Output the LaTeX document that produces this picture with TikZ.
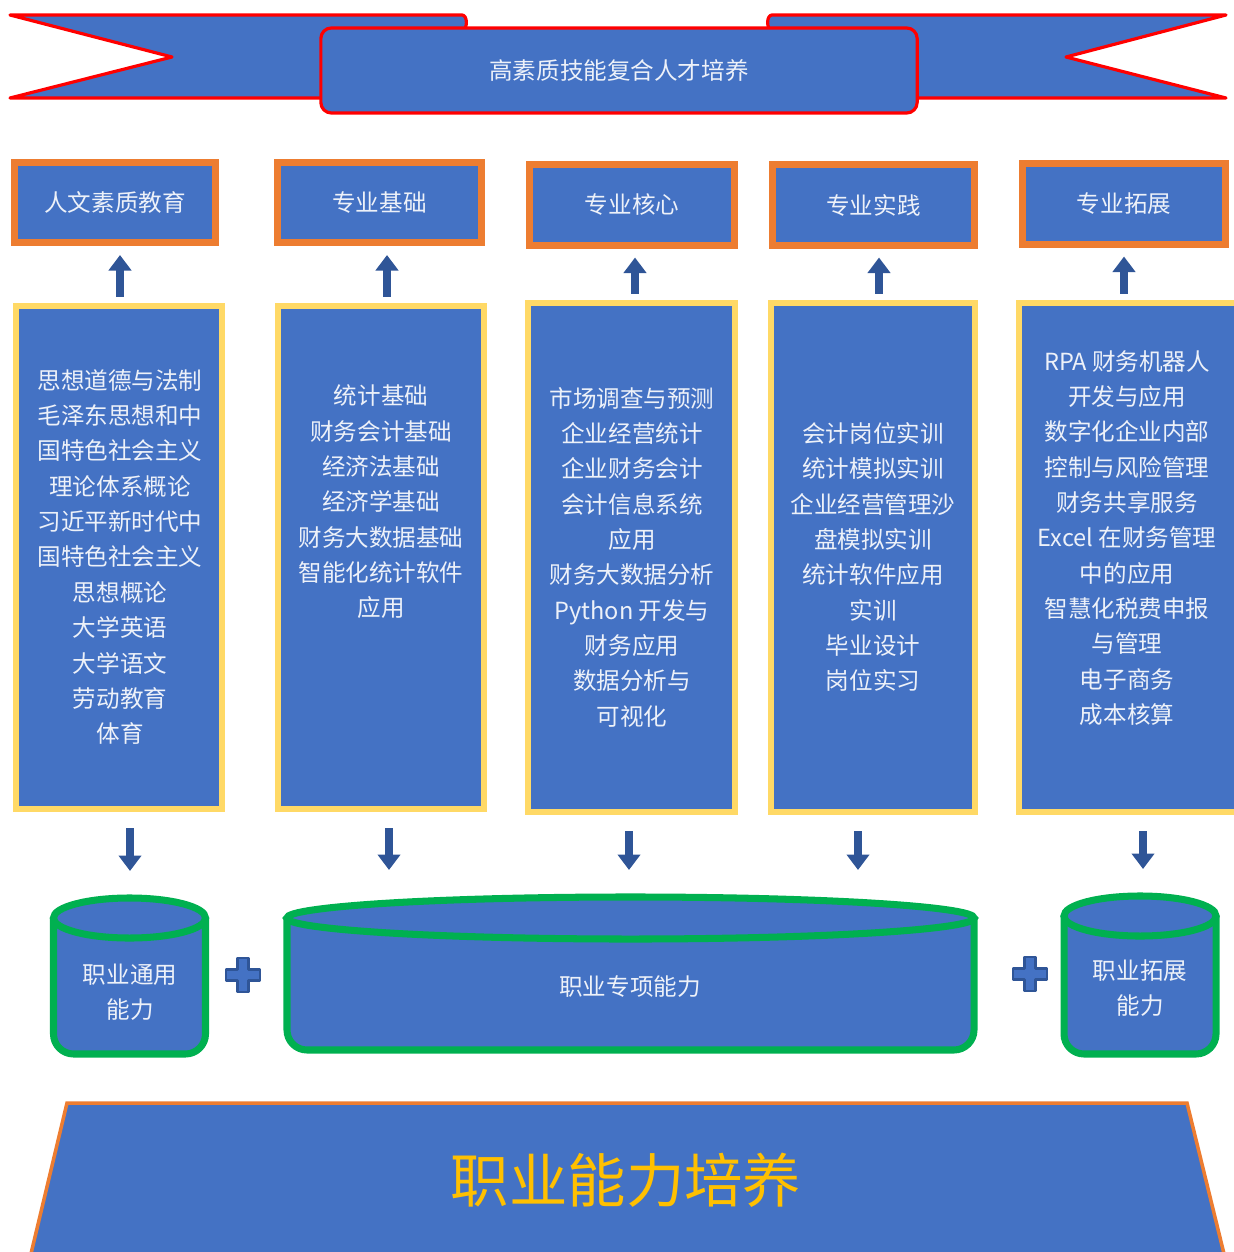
\documentclass[tikz,border=0pt]{standalone}
\usepackage{fontspec}
\newfontfamily\cjk{Noto Sans CJK SC}
\usetikzlibrary{arrows.meta}

\definecolor{boxblue}{HTML}{4472C4}
\definecolor{arrblue}{HTML}{2F5597}
\definecolor{hdorange}{HTML}{ED7D31}
\definecolor{crsyellow}{HTML}{FFD966}
\definecolor{capgreen}{HTML}{00B050}
\definecolor{txtwhite}{HTML}{EDF1F9}
\definecolor{basegold}{HTML}{FFC000}
\definecolor{ribred}{HTML}{FF0000}

\tikzset{
  ribbon/.style={draw=ribred, line width=0.9pt, fill=boxblue, line join=round},
  headbox/.style={draw=hdorange, line width=2pt, fill=boxblue, minimum height=0.8cm,
    text=txtwhite, font=\cjk\fontsize{6.7}{10}\selectfont},
  coursebox/.style={draw=crsyellow, line width=1.8pt, fill=boxblue},
  coursetext/.style={text=txtwhite, align=center, font=\cjk\fontsize{6.7}{10.05}\selectfont},
  uparr/.style={arrblue, line width=2.3pt, -{Triangle[width=6.3pt,length=4.4pt]},
    shorten <=0.6mm, shorten >=0.9mm},
  downarr/.style={arrblue, line width=2.3pt, -{Triangle[width=6.3pt,length=4.4pt]},
    shorten <=1.6mm, shorten >=2.6mm},
  capline/.style={draw=capgreen, line width=2pt, fill=boxblue},
  plussign/.style={draw=arrblue, line width=0.8pt, fill=boxblue, line join=round},
}

\begin{document}
\begin{tikzpicture}[x=0.01cm, y=-0.01cm]
  \useasboundingbox (0,0) rectangle (1233,1252);

  % banner
  \draw[ribbon] (10,15) -- (462,15) to[out=0,in=0] (462,30) -- (330,30) -- (330,98)
    -- (10,98) -- (172,57) -- cycle;
  \draw[ribbon] (1226,15) -- (772,15) to[out=180,in=180] (772,30) -- (905,30) -- (905,98)
    -- (1226,98) -- (1066,57) -- cycle;
  \node[ribbon, rounded corners=3pt, minimum width=5.96cm, minimum height=0.85cm,
    text=txtwhite, font=\cjk\fontsize{6.7}{10}\selectfont] (goal) at (619,70.5) {高素质技能复合人才培养};

  % module heads
  \node[headbox, minimum width=2.0cm] (h1) at (115,202.5) {人文素质教育};
  \node[headbox, minimum width=2.03cm] (h2) at (379.5,202.5) {专业基础};
  \node[headbox, minimum width=2.04cm] (h3) at (632,205) {专业核心};
  \node[headbox, minimum width=2.01cm] (h4) at (873.5,205) {专业实践};
  \node[headbox, minimum width=2.02cm] (h5) at (1124,204) {专业拓展};

  % course boxes
  \node[coursebox, minimum width=2.06cm, minimum height=5.03cm] (c1) at (119,557.5) {};
  \node[coursebox, minimum width=2.06cm, minimum height=5.03cm] (c2) at (381,557.5) {};
  \node[coursebox, minimum width=2.07cm, minimum height=5.09cm] (c3) at (631.5,557.5) {};
  \node[coursebox, minimum width=2.04cm, minimum height=5.09cm] (c4) at (873,557.5) {};
  \node[coursebox, minimum width=2.18cm, minimum height=5.09cm] (c5) at (1128,557.5) {};

  \node[coursetext] (t1) at (120,557) {思想道德与法制\\毛泽东思想和中\\国特色社会主义\\理论体系概论\\习近平新时代中\\国特色社会主义\\思想概论\\大学英语\\大学语文\\劳动教育\\体育};
  \node[coursetext] (t2) at (381,502) {统计基础\\财务会计基础\\经济法基础\\经济学基础\\财务大数据基础\\智能化统计软件\\应用};
  \node[coursetext] (t3) at (632,557) {市场调查与预测\\企业经营统计\\企业财务会计\\会计信息系统\\应用\\财务大数据分析\\Python 开发与\\财务应用\\数据分析与\\可视化};
  \node[coursetext] (t4) at (873,557) {会计岗位实训\\统计模拟实训\\企业经营管理沙\\盘模拟实训\\统计软件应用\\实训\\毕业设计\\岗位实习};
  \node[coursetext] (t5) at (1127,538) {RPA 财务机器人\\开发与应用\\数字化企业内部\\控制与风险管理\\财务共享服务\\Excel 在财务管理\\中的应用\\智慧化税费申报\\与管理\\电子商务\\成本核算};

  \foreach \i/\dx in {1/0.1, 2/0.6, 3/0.35, 4/0.6, 5/-0.4}
    \draw[uparr] ([xshift=\dx mm]c\i.north) -- ([xshift=\dx mm]c\i.north |- h\i.south);

  % ability cylinders
  \filldraw[capline, rounded corners=5.7pt] (53.5,918) -- (53.5,1054) -- (205.5,1054) -- (205.5,918);
  \filldraw[capline] (129.5,918) ellipse [x radius=0.76cm, y radius=0.2cm];
  \filldraw[capline, rounded corners=5.7pt] (287,918) -- (287,1050) -- (974,1050) -- (974,918);
  \filldraw[capline] (630.5,918) ellipse [x radius=3.435cm, y radius=0.21cm];
  \filldraw[capline, rounded corners=5.7pt] (1064,916) -- (1064,1054) -- (1216,1054) -- (1216,916);
  \filldraw[capline] (1140,916) ellipse [x radius=0.76cm, y radius=0.2cm];

  \coordinate (k1) at (129.5,897);
  \coordinate (k2) at (630.5,896);
  \coordinate (k3) at (1140,895);

  \node[coursetext] (a1) at (130,992) {职业通用\\能力};
  \node[coursetext] (a2) at (630,987) {职业专项能力};
  \node[coursetext] (a3) at (1140,988) {职业拓展\\能力};

  \foreach \i/\k/\dx in {1/k1/1.1, 2/k2/0.8, 3/k2/-0.25, 4/k2/-1.5, 5/k3/1.5}
    \draw[downarr] ([xshift=\dx mm]c\i.south) -- ([xshift=\dx mm]c\i.south |- \k);

  \foreach \px/\py in {243/975, 1030/974}
    \filldraw[plussign, shift={(\px,\py)}] (-5.5,-17) -- (5.5,-17) -- (5.5,-5.5) -- (17,-5.5)
      -- (17,5.5) -- (5.5,5.5) -- (5.5,17) -- (-5.5,17) -- (-5.5,5.5) -- (-17,5.5)
      -- (-17,-5.5) -- (-5.5,-5.5) -- cycle;

  % base
  \filldraw[draw=hdorange, line width=1pt, fill=boxblue] (67,1103) -- (1187,1103) -- (1226,1262)
    -- (29,1262) -- cycle;
  \node[text=basegold, font=\cjk\fontsize{16.6}{20}\selectfont] (base) at (626,1180) {职业能力培养};
\end{tikzpicture}
\end{document}
